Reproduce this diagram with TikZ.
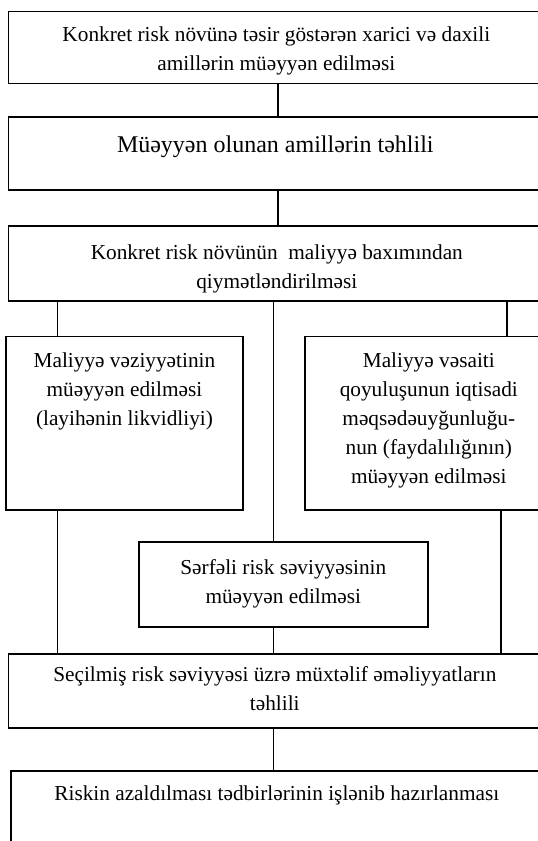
\documentclass[tikz,border=0pt]{standalone}
\usepackage{fontspec}
\setmainfont{Liberation Serif}

% text block of a panel: width, height, first baseline below the top edge, text
\newcommand\paneltext[4]{%
  \parbox[t][#2pt][t]{#1pt}{\centering
    \vspace*{\dimexpr #3pt-\ht\strutbox\relax}\strut #4\par}}

\begin{document}
\begin{tikzpicture}[x=1pt,y=-1pt,
    panel/.style={draw, line width=1.6pt, inner sep=0pt, anchor=north west,
      font=\fontsize{21.3}{29}\selectfont},
    bigpanel/.style={panel, font=\fontsize{24}{31}\selectfont},
    wire/.style={line width=1.6pt}]
\useasboundingbox (0,0) rectangle (538,841);
\clip (0,0) rectangle (538,841);

% main chain of panels
\node[panel] (b1) at (7.5,10.7) {\paneltext{536}{72}{30}{Konkret risk növünə təsir göstərən xarici və daxili\\amillərin müəyyən edilməsi}};
\node[bigpanel] (b2) at (7.5,116) {\paneltext{534}{73}{36}{Müəyyən olunan amillərin təhlili}};
\node[panel] (b3) at (7.5,225) {\paneltext{537}{75}{34}{Konkret risk növünün~ maliyyə baxımından\\qiymətləndirilməsi}};

% three branches
\node[panel] (bl) at (5,335.5) {\paneltext{237.3}{173.5}{31}{Maliyyə vəziyyətinin\\müəyyən edilməsi\\(layihənin likvidliyi)}};
\node[panel] (br) at (304,335.5) {\paneltext{248}{173.5}{31}{Maliyyə vəsaiti\\qoyuluşunun iqtisadi\\məqsədəuyğunluğu-\\nun (faydalılığının)\\müəyyən edilməsi}};
\node[panel] (bm) at (138,541) {\paneltext{289}{85}{32.5}{Sərfəli risk səviyyəsinin\\müəyyən edilməsi}};

% closing panels
\node[panel] (b5) at (7.5,653) {\paneltext{533}{74}{28}{Seçilmiş risk səviyyəsi üzrə müxtəlif əməliyyatların\\təhlili}};
\node[panel] (b6) at (10.3,770) {\paneltext{531.4}{100}{30}{Riskin azaldılması tədbirlərinin işlənib hazırlanması}};

% vertical tracks of the connectors
\coordinate (xa) at (278,0);
\coordinate (xc) at (273.5,0);
\coordinate (xl) at (57.5,0);
\coordinate (xr) at (507,0);
\coordinate (xs) at (501,0);

\draw[wire] (b1.south -| xa) -- (b2.north -| xa);
\draw[wire] (b2.south -| xa) -- (b3.north -| xa);
\draw[wire] (b3.south -| xl) -- (bl.north -| xl);
\draw[wire] (b3.south -| xc) -- (bm.north -| xc);
\draw[wire] (b3.south -| xr) -- (br.north -| xr);
\draw[wire] (bl.south -| xl) -- (b5.north -| xl);
\draw[wire] (bm.south -| xc) -- (b5.north -| xc);
\draw[wire] (br.south -| xs) -- (b5.north -| xs);
\draw[wire] (b5.south -| xc) -- (b6.north -| xc);
\end{tikzpicture}
\end{document}
